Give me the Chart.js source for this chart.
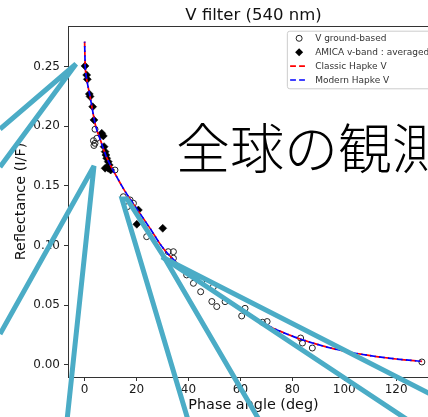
<!DOCTYPE html>
<html><head><meta charset="utf-8">
<script src="https://cdn.jsdelivr.net/npm/chart.js@4/dist/chart.umd.min.js"></script>
<style>
html,body{margin:0;padding:0;overflow:hidden;background:#fff;width:428px;height:417px}
#wrap{position:relative;width:450px;height:417px}
canvas{display:block}
</style></head>
<body><div id="wrap"><canvas id="c" width="450" height="417"></canvas></div>
<script>
// ---- text ----
const chartTitle = 'V filter (540 nm)';
const xAxisLabel = 'Phase angle (deg)';
const yAxisLabel = 'Reflectance (I/F)';
const seriesNames = ['V ground-based', 'AMICA v-band : averaged', 'Classic Hapke V', 'Modern Hapke V'];
const overlayText = '全球の観測';

// ---- ticks ----
const xTicks = [0, 20, 40, 60, 80, 100, 120];
const yTicks = [0, 0.05, 0.10, 0.15, 0.20, 0.25];

// ---- V ground-based (open circles) ----
const groundPhase = [4.0, 6.6, 4.7, 3.4, 4.0, 3.6, 11.7, 14.9, 17.5, 18.8, 16.5, 23.9, 32.2, 34.2, 34.2,
  39.3, 41.9, 45.1, 44.7, 49.6, 49.0, 50.9, 54.1, 61.8, 60.5, 70.3, 68.5, 83.2, 83.9, 87.7, 129.9];
const groundRefl = [0.1975, 0.1927, 0.1899, 0.1879, 0.1857, 0.1839, 0.1633, 0.1409, 0.1382, 0.1354, 0.1326, 0.1074, 0.0948, 0.0948, 0.0893,
  0.0753, 0.0683, 0.0705, 0.0612, 0.0654, 0.0530, 0.0488, 0.0529, 0.0473, 0.0409, 0.0362, 0.0356, 0.0224, 0.0182, 0.0140, 0.0023];

// ---- AMICA v-band averaged (filled diamonds) ----
const amicaPhase = [0.15, 0.8, 1.05, 1.8, 2.1, 3.1, 3.6, 6.6, 7.2, 7.5, 7.9, 8.2, 8.5, 9.1, 9.5, 7.9, 9.1, 10.05, 20.7, 20.1, 30.1];
const amicaRefl = [0.2506, 0.2430, 0.2394, 0.2271, 0.2250, 0.2164, 0.2053, 0.1941, 0.1919, 0.1829, 0.1787, 0.1759, 0.1732, 0.1703, 0.1675, 0.1648, 0.1648, 0.1633, 0.1298, 0.1178, 0.1144];

// ---- Hapke model curves ----
const hapkePhase = [0, 0.2, 0.5, 1, 2, 3, 4, 5, 6, 8, 10, 12, 15, 20, 25, 30, 35, 40, 45, 50, 55, 60, 70, 80, 90, 100, 110, 120, 130];
const classicRefl = [0.271, 0.252, 0.244, 0.237, 0.226, 0.214, 0.2025, 0.195, 0.189, 0.1765, 0.167, 0.159, 0.1475, 0.131, 0.115, 0.0985,
  0.0865, 0.0765, 0.068, 0.0605, 0.054, 0.0475, 0.0335, 0.024, 0.0168, 0.0114, 0.0076, 0.0048, 0.0028];
const modernRefl = [0.271, 0.252, 0.244, 0.237, 0.226, 0.214, 0.2025, 0.195, 0.189, 0.1765, 0.167, 0.159, 0.1475, 0.131, 0.115, 0.0985,
  0.0865, 0.0765, 0.068, 0.0605, 0.054, 0.0475, 0.0335, 0.024, 0.0168, 0.0114, 0.0076, 0.0048, 0.0028];

// ---- slide callout outlines (decoration, canvas pixels) ----
const calloutPaths = [
  [[0, 129], [76, 64], [0, 167]],
  [[0, 334], [94, 166], [66, 430]],
  [[191, 430], [122, 199], [127, 199], [164, 257], [265, 430]],
  [[450, 404], [162, 257], [450, 448]]
];

const pts = (xs, ys) => xs.map((x, i) => ({x: x, y: ys[i]}));
const axisColor = '#333333';
const textColor = '#1a1a1a';
Chart.defaults.font.family = "'DejaVu Sans', sans-serif";
Chart.defaults.color = textColor;

const framePlugin = {
  id: 'frame',
  beforeDatasetsDraw(chart) {
    const {ctx, chartArea: a} = chart;
    ctx.save();
    ctx.strokeStyle = axisColor;
    ctx.lineWidth = 1;
    ctx.beginPath();
    const t = Math.round(a.top) + 0.5, r = Math.round(a.right) - 0.5;
    ctx.moveTo(a.left, t); ctx.lineTo(r, t); ctx.lineTo(r, a.bottom);
    ctx.stroke();
    ctx.restore();
  }
};

const overlayPlugin = {
  id: 'overlay',
  afterDraw(chart) {
    const {ctx, chartArea: a} = chart;
    ctx.save();
    // legend
    ctx.font = "9px 'DejaVu Sans'";
    const tw = Math.max(...seriesNames.map(n => ctx.measureText(n).width));
    const right = a.right - 5, top = a.top + 4.7;
    const left = right - (tw + 33);
    const bottom = top + 57.6;
    ctx.beginPath();
    ctx.roundRect(left + 0.5, top + 0.5, right - left, bottom - top, 2.5);
    ctx.fillStyle = 'rgba(255,255,255,0.85)';
    ctx.fill();
    ctx.strokeStyle = '#cccccc';
    ctx.lineWidth = 1;
    ctx.stroke();
    const rowY = i => top + 7.6 + i * 13.9;
    const mx = left + 12.3;
    // circle
    ctx.beginPath(); ctx.arc(mx, rowY(0), 3, 0, Math.PI * 2);
    ctx.strokeStyle = '#222'; ctx.lineWidth = 1; ctx.stroke();
    // diamond
    ctx.beginPath();
    ctx.moveTo(mx - 4, rowY(1)); ctx.lineTo(mx, rowY(1) - 4); ctx.lineTo(mx + 4, rowY(1)); ctx.lineTo(mx, rowY(1) + 4);
    ctx.closePath(); ctx.fillStyle = '#000'; ctx.fill();
    // dashed lines
    [['#ff0000', 2], ['#0000ff', 3]].forEach(([c, i]) => {
      ctx.beginPath(); ctx.setLineDash([5.8, 3.2]);
      ctx.moveTo(left + 3.3, rowY(i)); ctx.lineTo(left + 19.5, rowY(i));
      ctx.strokeStyle = c; ctx.lineWidth = 1.7; ctx.stroke();
    });
    ctx.setLineDash([]);
    ctx.fillStyle = '#333';
    ctx.textBaseline = 'middle';
    ctx.textAlign = 'left';
    seriesNames.forEach((n, i) => ctx.fillText(n, left + 28.3, rowY(i) + 0.5));

    // big slide text
    ctx.font = "300 54px 'Noto Sans CJK JP'";
    ctx.fillStyle = '#000';
    ctx.textBaseline = 'alphabetic';
    ctx.fillText(overlayText, 176, 169);

    // callout outlines
    ctx.strokeStyle = 'rgb(75,172,198)';
    ctx.lineWidth = 5;
    ctx.lineJoin = 'miter';
    ctx.miterLimit = 3;
    calloutPaths.forEach(path => {
      ctx.beginPath();
      path.forEach(([x, y], i) => i ? ctx.lineTo(x, y) : ctx.moveTo(x, y));
      ctx.stroke();
    });
    ctx.restore();
  }
};

new Chart(document.getElementById('c'), {
  type: 'scatter',
  data: {
    datasets: [
      { label: seriesNames[0], data: pts(groundPhase, groundRefl), pointStyle: 'circle', pointRadius: 3, pointHoverRadius: 3,
        backgroundColor: 'rgba(0,0,0,0)', borderColor: '#222', borderWidth: 1, order: 4 },
      { label: seriesNames[1], data: pts(amicaPhase, amicaRefl), pointStyle: 'rectRot', pointRadius: 4, pointHoverRadius: 4,
        backgroundColor: '#000', borderColor: '#000', borderWidth: 0.5, order: 3 },
      { type: 'line', label: seriesNames[2], data: pts(hapkePhase, classicRefl), showLine: true, pointRadius: 0,
        borderColor: '#ff0000', borderWidth: 1.7, borderDash: [5.8, 3.2], fill: false, cubicInterpolationMode: 'monotone', order: 2 },
      { type: 'line', label: seriesNames[3], data: pts(hapkePhase, modernRefl), showLine: true, pointRadius: 0,
        borderColor: '#0000ff', borderWidth: 1.7, borderDash: [5.8, 3.2], borderDashOffset: 4.5, fill: false, cubicInterpolationMode: 'monotone', order: 1 }
    ]
  },
  options: {
    responsive: false,
    animation: false,
    devicePixelRatio: 1,
    layout: { padding: { left: 0, right: 11, top: 0, bottom: 0 } },
    plugins: {
      legend: { display: false },
      tooltip: { enabled: false },
      title: { display: true, text: chartTitle, fullSize: false, color: '#111',
        font: { size: 16.5, weight: 'normal' }, padding: { top: 6, bottom: 0.2 } }
    },
    scales: {
      x: {
        type: 'linear', min: -6.4, max: 136.5,
        afterBuildTicks: s => { s.ticks = xTicks.map(v => ({value: v})); },
        afterFit: s => { s.height = 40; },
        ticks: { font: { size: 12 }, color: textColor, padding: 2, maxRotation: 0, callback: v => String(v) },
        grid: { drawOnChartArea: false, drawTicks: true, tickLength: 4, color: axisColor },
        border: { display: true, color: axisColor, width: 1 },
        title: { display: true, text: xAxisLabel, color: '#111', font: { size: 14.4 }, padding: { top: 0, bottom: 3.4 } }
      },
      y: {
        type: 'linear', min: -0.0103, max: 0.2841,
        afterBuildTicks: s => { s.ticks = yTicks.map(v => ({value: v})); },
        afterFit: s => { s.width = 68; },
        ticks: { font: { size: 12 }, color: textColor, padding: 4, callback: v => Number(v).toFixed(2) },
        grid: { drawOnChartArea: false, drawTicks: true, tickLength: 4, color: axisColor },
        border: { display: true, color: axisColor, width: 1 },
        title: { display: true, text: yAxisLabel, color: '#111', font: { size: 14.4 }, padding: { top: 12.4, bottom: 0 } }
      }
    }
  },
  plugins: [framePlugin, overlayPlugin]
});
</script>
</body></html>
